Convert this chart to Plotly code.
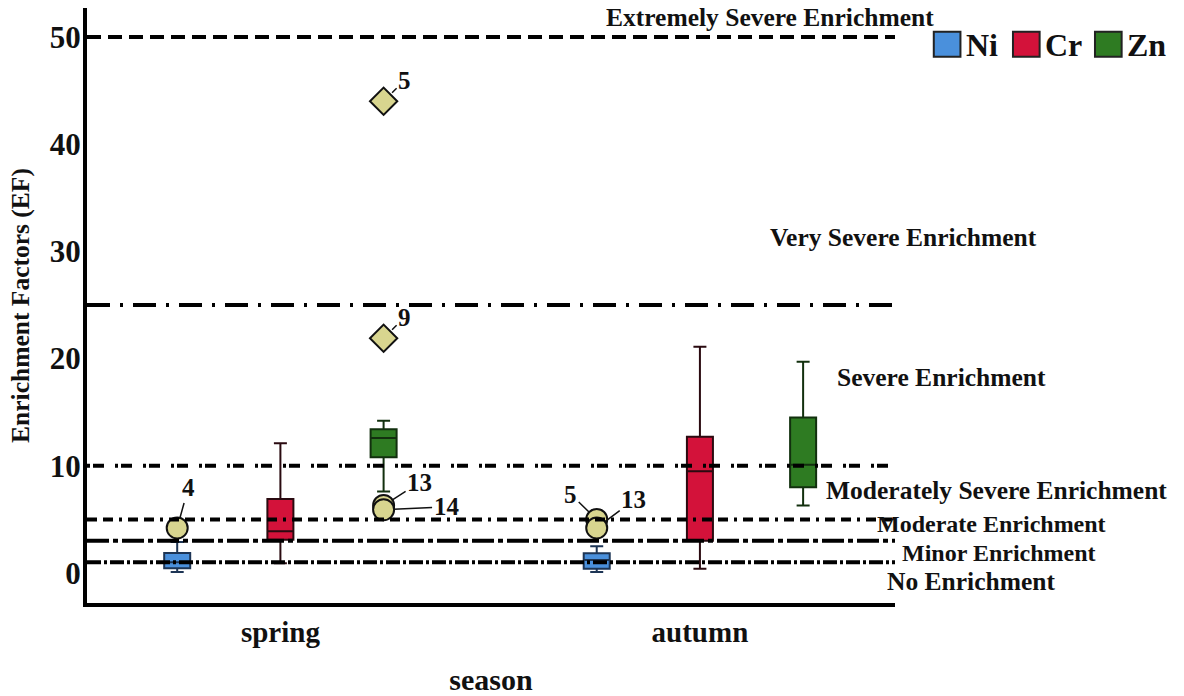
import plotly.graph_objects as go

# ---- data -------------------------------------------------------------
seasons = ["spring", "autumn"]
metals = ["Ni", "Cr", "Zn"]

# box statistics per metal, ordered as `seasons`
q1 = {"Ni": [0.45, 0.4], "Cr": [3.1, 3.0], "Zn": [10.8, 8.0]}
median = {"Ni": [1.0, 1.2], "Cr": [3.9, 9.5], "Zn": [12.6, 10.1]}
q3 = {"Ni": [1.87, 1.85], "Cr": [6.9, 12.7], "Zn": [13.4, 14.5]}
lowerfence = {"Ni": [0.1, 0.1], "Cr": [0.9, 0.4], "Zn": [7.6, 6.3]}
upperfence = {"Ni": [2.9, 2.5], "Cr": [12.1, 21.1], "Zn": [14.2, 19.7]}

# outliers (circles) and extremes (diamonds): season, metal, value, case id
outlier_season = ["spring", "spring", "spring", "autumn", "autumn"]
outlier_metal = ["Ni", "Zn", "Zn", "Ni", "Ni"]
outlier_value = [4.2, 6.3, 5.9, 5.0, 4.2]
outlier_case = ["4", "13", "14", "5", "13"]

extreme_season = ["spring", "spring"]
extreme_metal = ["Zn", "Zn"]
extreme_value = [44.0, 21.9]
extreme_case = ["5", "9"]

# enrichment class boundaries and names
thresholds = [1, 3, 5, 10, 25, 50]
classes = [
    "No Enrichment", "Minor Enrichment", "Moderate Enrichment",
    "Moderately Severe Enrichment", "Severe Enrichment",
    "Very Severe Enrichment", "Extremely Severe Enrichment",
]

# ---- style ------------------------------------------------------------
FONT = "Liberation Serif, Times New Roman, serif"
fill = {"Ni": "#4a90dc", "Cr": "#d3123a", "Zn": "#2e7b22"}
edge = {"Ni": "#1d3555", "Cr": "#2a0a10", "Zn": "#12300e"}
offset = {"Ni": -0.246, "Cr": 0.0, "Zn": 0.246}
box_w = 0.062
season_pos = {s: i for i, s in enumerate(seasons)}

fig = go.Figure()

for m in metals:
    fig.add_trace(go.Box(
        x=[season_pos[s] + offset[m] for s in seasons],
        q1=q1[m], median=median[m], q3=q3[m],
        lowerfence=lowerfence[m], upperfence=upperfence[m],
        width=box_w, whiskerwidth=0.5,
        fillcolor=fill[m], line=dict(color=edge[m], width=2),
        boxpoints=False, showlegend=False, hoverinfo="skip",
    ))

ox = [season_pos[s] + offset[m] for s, m in zip(outlier_season, outlier_metal)]
ex = [season_pos[s] + offset[m] for s, m in zip(extreme_season, extreme_metal)]

fig.add_trace(go.Scatter(
    x=ox, y=outlier_value, mode="markers", showlegend=False,
    marker=dict(symbol="circle", size=21, color="#d8d58f",
                line=dict(color="#111", width=2)),
))
fig.add_trace(go.Scatter(
    x=ex, y=extreme_value, mode="markers", showlegend=False,
    marker=dict(symbol="diamond", size=21, color="#d8d58f",
                line=dict(color="#111", width=2)),
))

# case labels with short leader lines
label_font = dict(family=FONT, size=25, color="#111", weight="bold")
outlier_shift = [(11, -40), (36, -23), (63, -3), (-26, -25), (37, -28)]
for x, y, t, (dx, dy) in zip(ox, outlier_value, outlier_case, outlier_shift):
    fig.add_annotation(x=x, y=y, text=t, showarrow=True, arrowhead=0,
                       arrowwidth=1.5, arrowcolor="#111", standoff=10,
                       ax=dx, ay=dy, font=label_font)
for x, y, t in zip(ex, extreme_value, extreme_case):
    fig.add_annotation(x=x, y=y, text=t, showarrow=True, arrowhead=0,
                       arrowwidth=1.5, arrowcolor="#111", standoff=12,
                       ax=21, ay=-21, font=label_font)

# class boundary lines
dashes = {
    1: "14px,3px,3px,3px",
    3: "22px,4px,5px,4px",
    5: "10px,6px,10px,6px,3px,6px",
    10: "3px,3px,11px,11px",
    25: "23px,10px,3px,10px",
    50: "14px,7px",
}
for t in thresholds:
    fig.add_shape(type="line", xref="paper", yref="y", x0=0, x1=1, y0=t, y1=t,
                  line=dict(color="#000", width=4, dash=dashes[t]), layer="above")

# class names to the right of the lines
class_pos = [(1.094, -0.8), (1.129, 1.85), (1.119, 4.6), (1.125, 7.65),
             (1.057, 18.2), (1.010, 31.3), (0.845, 51.8)]
class_size = [25.5, 24, 24, 25.5, 25.5, 25.5, 25.5]
for name, (px, py), fs in zip(classes, class_pos, class_size):
    fig.add_annotation(xref="paper", yref="y", x=px, y=py, text=name,
                       showarrow=False, xanchor="center", yanchor="middle",
                       font=dict(family=FONT, size=fs, color="#111", weight="bold"))

# legend drawn as swatches with labels
legend_x = {"Ni": 1.048, "Cr": 1.146, "Zn": 1.2475}
sw = 0.033
for m in metals:
    fig.add_shape(type="rect", xref="paper", yref="paper",
                  x0=legend_x[m], x1=legend_x[m] + sw, y0=0.918, y1=0.960,
                  fillcolor=fill[m], line=dict(color="#222", width=2))
    fig.add_annotation(xref="paper", yref="paper", x=legend_x[m] + sw + 0.004,
                       y=0.938, text=m, showarrow=False, xanchor="left",
                       yanchor="middle",
                       font=dict(family=FONT, size=32, color="#111", weight="bold"))

fig.update_layout(
    width=1184, height=696,
    margin=dict(l=87, r=289, t=8, b=93),
    paper_bgcolor="white", plot_bgcolor="white",
    font=dict(family=FONT, color="#111"),
    showlegend=False,
    xaxis=dict(
        range=[-0.461, 1.465], tickmode="array",
        tickvals=[season_pos[s] for s in seasons], ticktext=seasons,
        showgrid=False, zeroline=False, showline=True, linecolor="#000",
        linewidth=4, ticks="", ticklabelstandoff=0, automargin=False,
        tickfont=dict(family=FONT, size=29, weight="bold"),
        title=dict(text="season", standoff=38,
                   font=dict(family=FONT, size=30, weight="bold")),
    ),
    yaxis=dict(
        range=[-2.8, 52.7], tickvals=[0, 10, 20, 30, 40, 50],
        showgrid=False, zeroline=False, showline=True, linecolor="#000",
        linewidth=4, ticks="", ticklabelstandoff=-4, automargin=False,
        tickfont=dict(family=FONT, size=31, weight="bold"),
        title=dict(text="Enrichment Factors (EF)", standoff=14,
                   font=dict(family=FONT, size=25.5, weight="bold")),
    ),
)

fig.write_html("out.html")
